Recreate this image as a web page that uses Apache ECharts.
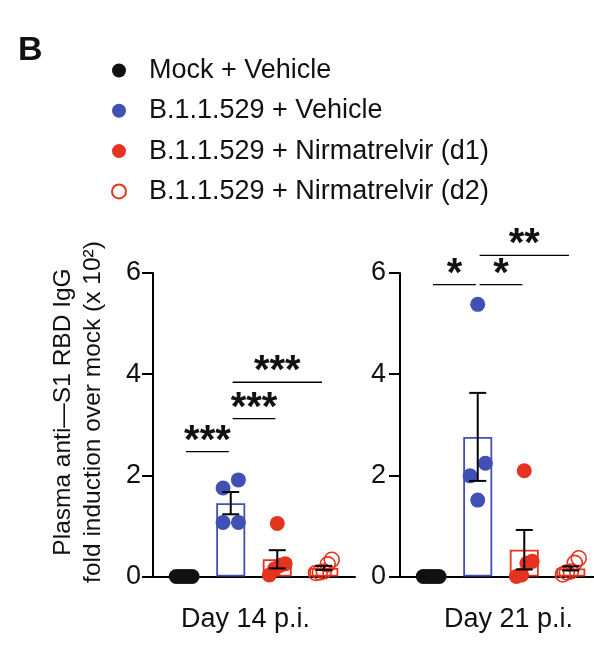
<!DOCTYPE html>
<html>
<head>
<meta charset="utf-8">
<script src="https://cdn.jsdelivr.net/npm/echarts@6/dist/echarts.min.js"></script>
<style>
html, body { margin: 0; padding: 0; background: #fff; }
#chart { width: 594px; height: 660px; }
</style>
</head>
<body>
<div id="chart"></div>
<script>
// groups shown in each panel
const groups = ['Mock + Vehicle', 'B.1.1.529 + Vehicle', 'B.1.1.529 + Nirmatrelvir (d1)', 'B.1.1.529 + Nirmatrelvir (d2)'];
const days = ['Day 14 p.i.', 'Day 21 p.i.'];
const yTicks = [0, 2, 4, 6];

// single animals, fold induction over mock (x 10^2)
const day14Mock = [0, 0, 0, 0, 0];
const day14Vehicle = [1.75, 1.91, 1.07, 1.07];
const day14D1 = [1.05, 0.25, 0.22, 0.15, 0.03];
const day14D2 = [0.33, 0.24, 0.10, 0.08, 0.07];
const day21Mock = [0, 0, 0, 0, 0];
const day21Vehicle = [5.38, 2.24, 1.99, 1.51];
const day21D1 = [2.09, 0.30, 0.26, 0.03, 0.00];
const day21D2 = [0.36, 0.27, 0.10, 0.08, 0.04];

// bars = mean, whiskers = SEM
const day14Mean = [0, 1.45, 0.34, 0.17];
const day14Sem = [0, 0.22, 0.18, 0.04];
const day21Mean = [0, 2.76, 0.53, 0.16];
const day21Sem = [0, 0.87, 0.39, 0.04];

// significance: [group a, group b, bracket height, stars]
const day14Sig = [[0, 1, 2.47, '***'], [1, 2, 3.12, '***'], [1, 3, 3.84, '***']];
const day21Sig = [[0, 1, 5.77, '*'], [1, 2, 5.77, '*'], [1, 3, 6.35, '**']];

const FONT = 'Liberation Sans, Arial, Helvetica, sans-serif';
const colors = ['#111111', '#4150b4', '#e4341f', '#e4341f'];
const filled = [true, true, true, false];

// spread dots that sit on top of each other sideways (prism style)
function swarm(values) {
  const idx = values.map((v, i) => i).sort((a, b) => values[a] - values[b]);
  const offsets = values.map(() => 0);
  let run = [idx[0]];
  const flush = () => {
    const n = run.length;
    const step = n > 1 ? Math.min(0.33, 0.34 / (n - 1)) : 0;
    run.forEach((k, j) => { offsets[k] = (j - (n - 1) / 2) * step; });
  };
  for (let i = 1; i < idx.length; i++) {
    if (values[idx[i]] - values[idx[i - 1]] < 0.3) run.push(idx[i]);
    else { flush(); run = [idx[i]]; }
  }
  flush();
  return offsets;
}

function errorBars(params, api) {
  const x = api.value(0);
  const lo = api.coord([x, api.value(1)]);
  const hi = api.coord([x, api.value(2)]);
  const half = 8.5;
  const style = { stroke: '#000', lineWidth: 2 };
  return {
    type: 'group',
    children: [
      { type: 'line', shape: { x1: lo[0], y1: lo[1], x2: hi[0], y2: hi[1] }, style },
      { type: 'line', shape: { x1: lo[0] - half, y1: lo[1], x2: lo[0] + half, y2: lo[1] }, style },
      { type: 'line', shape: { x1: hi[0] - half, y1: hi[1], x2: hi[0] + half, y2: hi[1] }, style }
    ]
  };
}

function brackets(sig) {
  return function (params, api) {
    const a = api.coord([api.value(0) + 0.04, api.value(2)]);
    const b = api.coord([api.value(1) - 0.04, api.value(2)]);
    return {
      type: 'group',
      children: [
        { type: 'line', shape: { x1: a[0], y1: a[1], x2: b[0], y2: b[1] }, style: { stroke: '#000', lineWidth: 1.3 } },
        {
          type: 'text', x: (a[0] + b[0]) / 2, y: a[1] - 10,
          style: {
            text: sig[params.dataIndex][3], fontSize: 40, fontWeight: 'bold', fontFamily: FONT,
            fill: '#111', align: 'center', verticalAlign: 'middle'
          }
        }
      ]
    };
  };
}

const panels = [
  { dots: [day14Mock, day14Vehicle, day14D1, day14D2], mean: day14Mean, sem: day14Sem, sig: day14Sig },
  { dots: [day21Mock, day21Vehicle, day21D1, day21D2], mean: day21Mean, sem: day21Sem, sig: day21Sig }
];

const series = [];
panels.forEach((p, k) => {
  series.push({
    name: 'bars' + k,
    type: 'bar',
    xAxisIndex: k, yAxisIndex: k,
    barWidth: 29,
    itemStyle: { color: '#fff', borderWidth: 1.8 },
    data: p.mean.map((m, i) => ({ value: [i, m], itemStyle: { borderColor: colors[i] } })),
    z: 1
  });
  p.dots.forEach((vals, i) => {
    const off = swarm(vals);
    series.push({
      name: groups[i],
      type: 'scatter',
      xAxisIndex: k, yAxisIndex: k,
      symbol: 'circle',
      symbolSize: 15,
      itemStyle: filled[i]
        ? { color: colors[i], opacity: 1 }
        : { color: 'rgba(255,255,255,0)', borderColor: colors[i], borderWidth: 1.6, opacity: 1 },
      data: vals.map((v, j) => [i + off[j], v]),
      z: 3
    });
  });
  series.push({
    name: 'sem' + k,
    type: 'custom',
    xAxisIndex: k, yAxisIndex: k,
    renderItem: errorBars,
    encode: { x: 0, y: [1, 2] },
    data: p.mean.map((m, i) => [i, m - p.sem[i], m + p.sem[i]]).filter((d, i) => p.sem[i] > 0),
    z: 4
  });
  series.push({
    name: 'sig' + k,
    type: 'custom',
    xAxisIndex: k, yAxisIndex: k,
    renderItem: brackets(p.sig),
    encode: { x: [0, 1], y: 2 },
    data: p.sig.map(s => [s[0], s[1], s[2]]),
    clip: false,
    z: 5
  });
});

const chart = echarts.init(document.getElementById('chart'), null, { renderer: 'canvas' });
const option = {
  animation: false,
  backgroundColor: '#fff',
  textStyle: { fontFamily: FONT },
  grid: [
    { left: 153, top: 273, width: 202, height: 303.5, outerBoundsMode: 'none' },
    { left: 400, top: 273, width: 202, height: 303.5, outerBoundsMode: 'none' }
  ],
  legend: {
    data: groups.map(n => ({ name: n, icon: 'circle' })),
    orient: 'vertical',
    left: 111, top: 57,
    padding: 0,
    itemWidth: 14, itemHeight: 14, itemGap: 13.3,
    selectedMode: false,
    textStyle: { fontSize: 27, color: '#111', fontFamily: FONT, padding: [0, 0, 0, 18] }
  },
  xAxis: days.map((d, k) => ({
    gridIndex: k,
    type: 'value',
    min: -0.67, max: 3.67,
    axisLine: { onZero: false, lineStyle: { color: '#000', width: 2 } },
    axisTick: { show: false },
    axisLabel: { show: false },
    splitLine: { show: false },
    name: d,
    nameLocation: 'middle',
    nameGap: 30,
    nameTextStyle: {
      fontSize: 27, color: '#111', fontFamily: FONT,
      padding: k === 0 ? [0, 17, 0, 0] : [0, 0, 0, 15]
    }
  })),
  yAxis: days.map((d, k) => ({
    gridIndex: k,
    type: 'value',
    min: yTicks[0], max: yTicks[yTicks.length - 1], interval: yTicks[1] - yTicks[0],
    axisLine: { show: true, onZero: false, lineStyle: { color: '#000', width: 2 } },
    axisTick: { show: true, length: 11, lineStyle: { color: '#000', width: 2 } },
    axisLabel: { fontSize: 27, color: '#111', margin: k === 0 ? 12 : 14, fontFamily: FONT },
    splitLine: { show: false }
  })),
  graphic: [
    { type: 'text', left: 18, top: 34, style: { text: 'B', font: 'bold 34px ' + FONT, fill: '#111' } },
    {
      type: 'text', x: 78, y: 412, rotation: Math.PI / 2,
      style: {
        text: 'Plasma anti\u2014S1 RBD IgG\nfold induction over mock (x 10\u00b2)',
        fontSize: 24.5, lineHeight: 30, fontFamily: FONT, fill: '#111',
        align: 'center', verticalAlign: 'middle'
      }
    }
  ],
  series: series
};
chart.setOption(option);
</script>
</body>
</html>
